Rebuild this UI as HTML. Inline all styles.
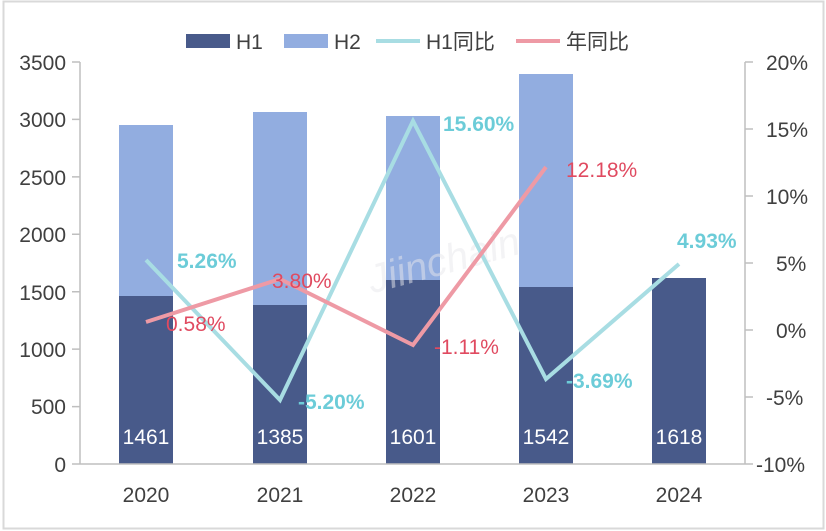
<!DOCTYPE html><html><head><style>body{margin:0;background:#fff}svg{display:block}text{font-family:"Liberation Sans","Noto Sans CJK SC",sans-serif}</style></head><body>
<svg width="826" height="531" viewBox="0 0 826 531">
<rect x="3.5" y="1.5" width="820" height="527" fill="#fff" stroke="#d9d9d9" stroke-width="2"/>
<g fill="#92ade0">
<rect x="119" y="125" width="54" height="172"/><rect x="253" y="112" width="54" height="193"/><rect x="386" y="116" width="54" height="165"/><rect x="519" y="74" width="54" height="213"/></g>
<g fill="#485a8a">
<rect x="119" y="296" width="54" height="168"/><rect x="253" y="305" width="54" height="159"/><rect x="386" y="280" width="54" height="184"/><rect x="519" y="287" width="54" height="177"/><rect x="652" y="278" width="54" height="186"/></g>
<text x="365" y="280" font-size="40" fill="#e8e8ec" opacity="0.5" transform="rotate(-15 420 260)" font-style="italic">Jiinchain</text>
<g stroke="#bfbfbf" stroke-width="1.5" fill="none">
<path d="M80 62V464M72 62H80M72 119.4H80M72 176.9H80M72 234.3H80M72 291.7H80M72 349.1H80M72 406.6H80M72 464H80"/>
<path d="M745 62V464M745 62H753M745 129H753M745 196H753M745 263H753M745 330H753M745 397H753M745 464H753"/>
<path d="M80 464H745"/></g>
<g font-size="21" fill="#404040" text-anchor="end">
<text x="66" y="70">3500</text><text x="66" y="127">3000</text><text x="66" y="185">2500</text><text x="66" y="242">2000</text><text x="66" y="300">1500</text><text x="66" y="357">1000</text><text x="66" y="414">500</text><text x="66" y="472">0</text></g>
<g font-size="21" fill="#404040">
<text x="766" y="70">20%</text><text x="766" y="137">15%</text><text x="766" y="204">10%</text><text x="776" y="271">5%</text><text x="776" y="338">0%</text><text x="766" y="405">-5%</text><text x="756" y="472">-10%</text></g>
<g font-size="21" fill="#404040" text-anchor="middle">
<text x="146" y="502">2020</text><text x="280" y="502">2021</text><text x="413" y="502">2022</text><text x="546" y="502">2023</text><text x="679" y="502">2024</text></g>
<g font-size="21" fill="#fff" text-anchor="middle">
<text x="146" y="444">1461</text><text x="280" y="444">1385</text><text x="413" y="444">1601</text><text x="546" y="444">1542</text><text x="679" y="444">1618</text></g>
<polyline points="146,260 280,400 413,121 546,379 679,264" fill="none" stroke="#a8dde3" stroke-width="4"/>
<polyline points="146,322 280,279 413,345 546,167" fill="none" stroke="#ee9aa5" stroke-width="4"/>
<g font-size="21" font-weight="bold" fill="#6cccd8">
<text x="177" y="268">5.26%</text><text x="298" y="409">-5.20%</text><text x="443" y="131">15.60%</text><text x="566" y="388">-3.69%</text><text x="677" y="248">4.93%</text></g>
<g font-size="21" fill="#e04a60">
<text x="166" y="331">0.58%</text><text x="272" y="288">3.80%</text><text x="434" y="354">-1.11%</text><text x="566" y="177">12.18%</text></g>
<g font-size="21" fill="#404040">
<rect x="186" y="34" width="44" height="14" fill="#485a8a"/><text x="236" y="49">H1</text>
<rect x="284" y="34" width="44" height="14" fill="#92ade0"/><text x="334" y="49">H2</text>
<line x1="376" y1="41" x2="420" y2="41" stroke="#a8dde3" stroke-width="4"/><text x="426" y="49">H1同比</text>
<line x1="516" y1="41" x2="560" y2="41" stroke="#ee9aa5" stroke-width="4"/><text x="566" y="49">年同比</text></g>
</svg></body></html>
